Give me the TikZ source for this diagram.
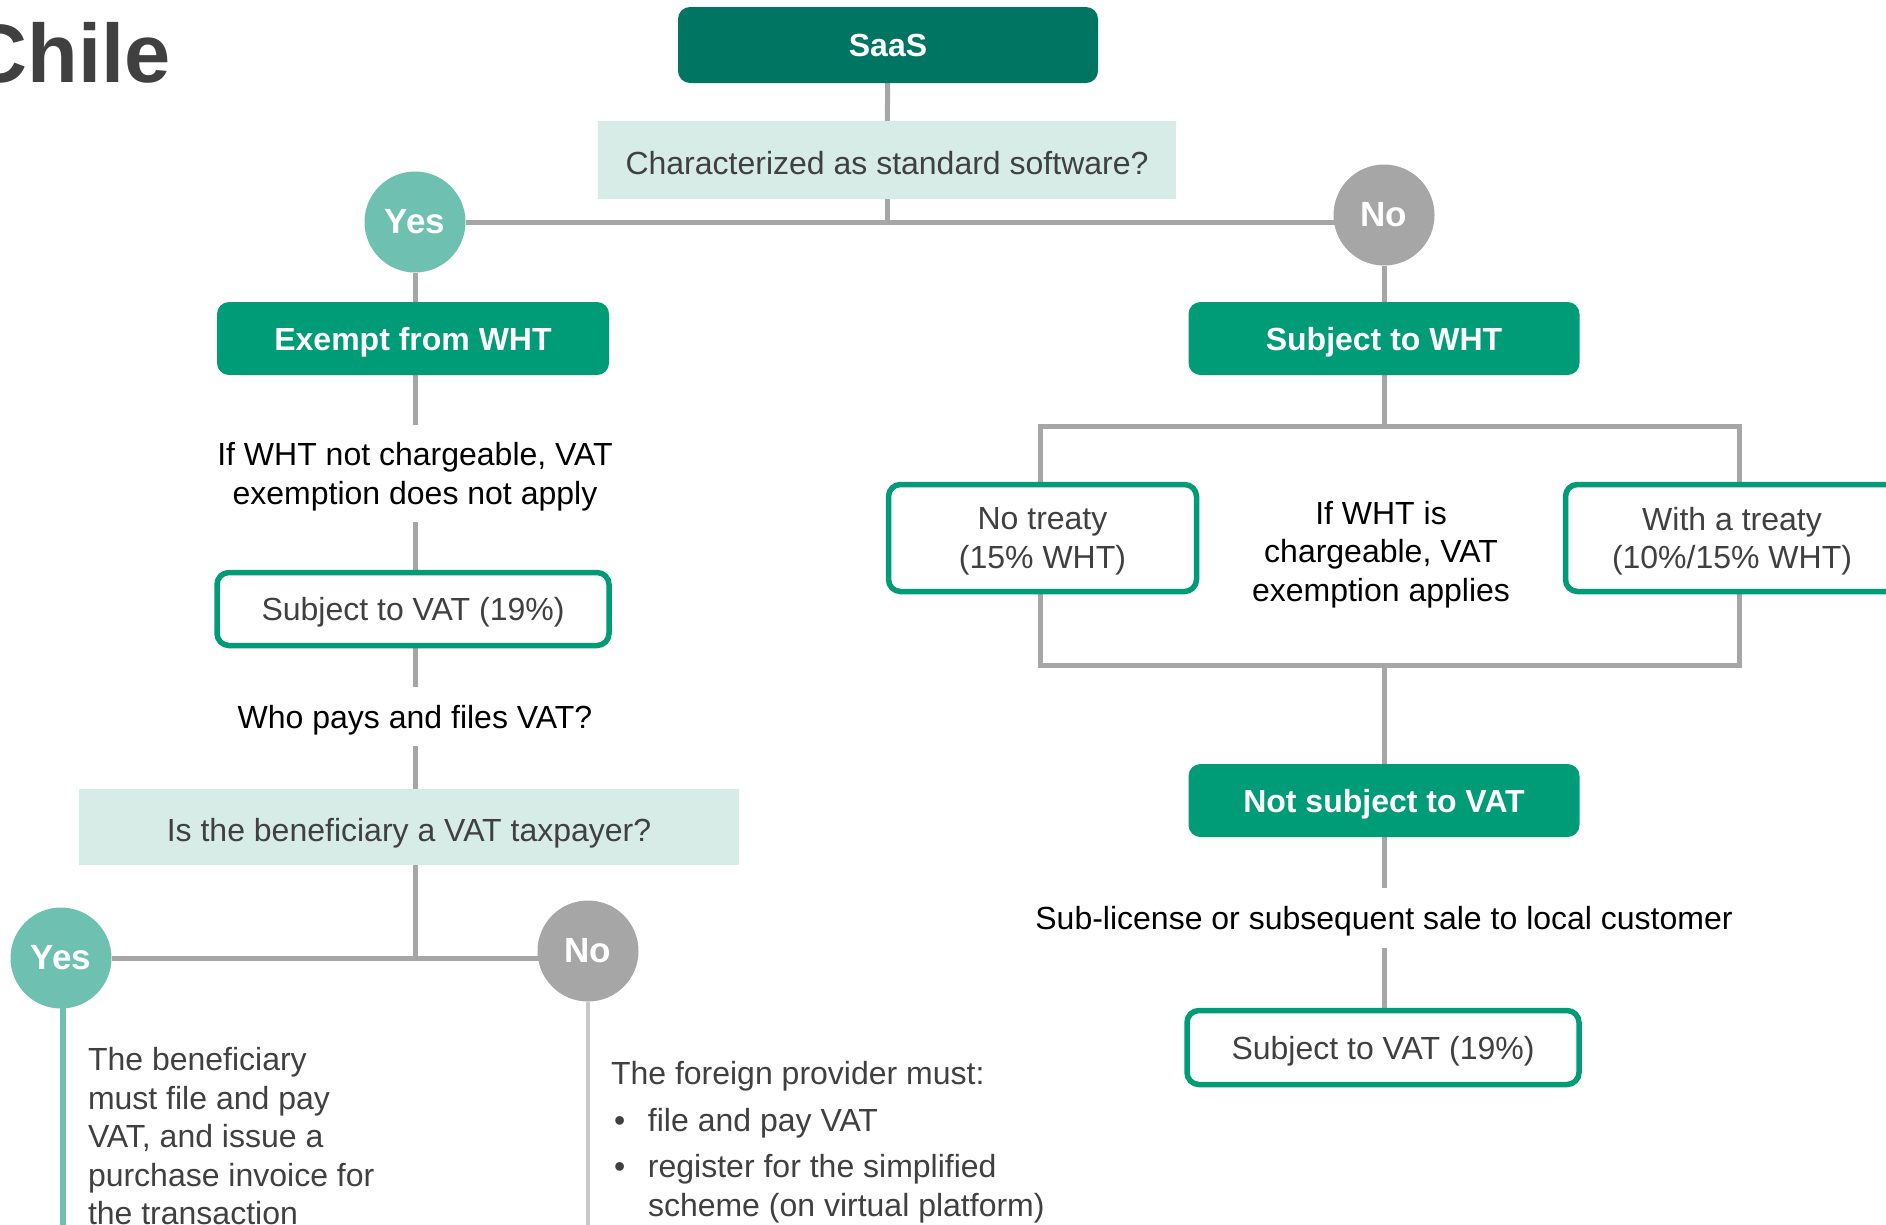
\documentclass[tikz,border=0pt]{standalone}
\usepackage{fontspec}
\setmainfont{Liberation Sans}
\usetikzlibrary{backgrounds}
\definecolor{cdark}{HTML}{007562}
\definecolor{cgreen}{HTML}{009B77}
\definecolor{cyes}{HTML}{6EC1B0}
\definecolor{cgray}{HTML}{A6A6A6}
\definecolor{clgray}{HTML}{C8C8C8}
\definecolor{clight}{HTML}{D7ECE6}
\definecolor{ctext}{HTML}{404040}
\newcommand{\fsz}{\fontsize{32}{38.5}\selectfont}
\begin{document}
\begin{tikzpicture}[x=1pt,y=-1pt,
  conn/.style={draw=cgray,line width=5pt},
  solidbox/.style={fill=cgreen,rounded corners=12pt,text=white,font=\fsz\bfseries,inner sep=0pt,outer sep=0pt,text depth=0pt},
  darkbox/.style={solidbox,fill=cdark},
  obox/.style={draw=cgreen,line width=5.5pt,fill=white,rounded corners=12pt,text=ctext,font=\fsz,inner sep=0pt,outer sep=0pt,align=center,text depth=0pt},
  qbar/.style={fill=clight,text=ctext,font=\fsz,inner sep=0pt,outer sep=0pt,text height=28pt,text depth=0pt},
  plain/.style={text=black,font=\fsz,inner sep=0pt,outer sep=0pt,align=center,text depth=0pt},
  yescirc/.style={circle,fill=cyes,minimum size=101pt,inner sep=0pt,outer sep=0pt,text=white,font=\fontsize{35}{40}\selectfont\bfseries},
  nocirc/.style={yescirc,fill=cgray},
  body/.style={text=ctext,font=\fsz,inner sep=0pt,outer sep=0pt,align=left,anchor=north west}]
\useasboundingbox (0,0) rectangle (1886,1224);

\node[anchor=base east,font=\fontsize{83}{90}\selectfont\bfseries,text=ctext,inner sep=0pt] (title) at (171,82) {Chile};

% top
\node[darkbox,minimum width=420pt,minimum height=76pt] (saas) at (888,45) {SaaS};
\node[qbar,minimum width=578pt,minimum height=78pt] (q) at (887,160) {Characterized as standard software?};
\node[yescirc] (yes1) at (415,222) {Yes};
\node[nocirc] (no1) at (1384,215) {No};

% left column
\node[solidbox,minimum width=392pt,minimum height=73pt] (exempt) at (413,338.5) {Exempt from WHT};
\node[plain,minimum height=97pt] (tl1) at (415,473.5) {If WHT not chargeable, VAT\\exemption does not apply};
\node[obox,minimum width=392pt,minimum height=73pt] (vatl) at (413,609) {Subject to VAT (19\%)};
\node[plain,minimum height=59pt] (who) at (415,716.5) {Who pays and files VAT?};
\node[qbar,minimum width=660pt,minimum height=76pt] (bar) at (409,827) {Is the beneficiary a VAT taxpayer?};
\coordinate (j2) at (415,958);
\node[yescirc] (yes2) at (61,958) {Yes};
\node[nocirc] (no2) at (588,951) {No};
\coordinate (yend) at (63,1240);
\coordinate (nend) at (588,1240);
\node[body] (ytxt) at (88,1047.5) {The beneficiary\\must file and pay\\VAT, and issue a\\purchase invoice for\\the transaction};
\node[body] (ntxt) at (611,1061.5) {The foreign provider must:\\[8pt]
\makebox[37pt][l]{\hspace{3pt}•}file and pay VAT\\[8pt]
\makebox[37pt][l]{\hspace{3pt}•}register for the simplified\\
\hspace*{37pt}scheme (on virtual platform)};

% right column
\node[solidbox,minimum width=391pt,minimum height=73pt] (subwht) at (1384,338.5) {Subject to WHT};
\coordinate (bl) at (1040,426);
\coordinate (br) at (1739,665);
\node[obox,minimum width=308pt,minimum height=107pt] (notreaty) at (1042.5,538) {No treaty\\(15\% WHT)};
\node[obox,minimum width=333pt,minimum height=107pt] (withtreaty) at (1732,538) {With a treaty\\(10\%/15\% WHT)};
\node[plain] (mid) at (1381,551) {If WHT is\\chargeable, VAT\\exemption applies};
\node[solidbox,minimum width=391pt,minimum height=73pt] (notvat) at (1384,800.5) {Not subject to VAT};
\node[plain,minimum height=60pt] (sub) at (1384,918) {Sub-license or subsequent sale to local customer};
\node[obox,minimum width=392pt,minimum height=74pt] (vatr) at (1383,1047.5) {Subject to VAT (19\%)};

\begin{scope}[on background layer]
  \draw[conn] (saas) -- (q);
  \draw[conn] (q.south) -- (q.south |- yes1);
  \draw[conn] (yes1) -- (yes1 -| no1);
  \draw[conn] (yes1) -- (yes1 |- exempt.north);
  \draw[conn] (no1) -- (subwht);
  \draw[conn] (exempt.south -| tl1.north) -- (tl1.north);
  \draw[conn] (tl1.south) -- (vatl.north -| tl1.south);
  \draw[conn] (vatl.south -| who.north) -- (who.north);
  \draw[conn] (who.south) -- (who.south |- bar.north);
  \draw[conn] (bar.south -| j2) -- (j2);
  \draw[conn] (yes2) -- (yes2 -| no2);
  \draw[draw=cyes,line width=6pt] (yes2.center -| yend) -- (yend);
  \draw[draw=clgray,line width=4pt] (no2) -- (nend);
  \draw[conn] (subwht.south) -- (subwht.south |- bl);
  \draw[conn] (bl) rectangle (br);
  \draw[conn] (subwht.south |- br) -- (notvat.north);
  \draw[conn] (notvat.south) -- (sub.north);
  \draw[conn] (sub.south) -- (vatr.north -| sub.south);
\end{scope}
\end{tikzpicture}
\end{document}
